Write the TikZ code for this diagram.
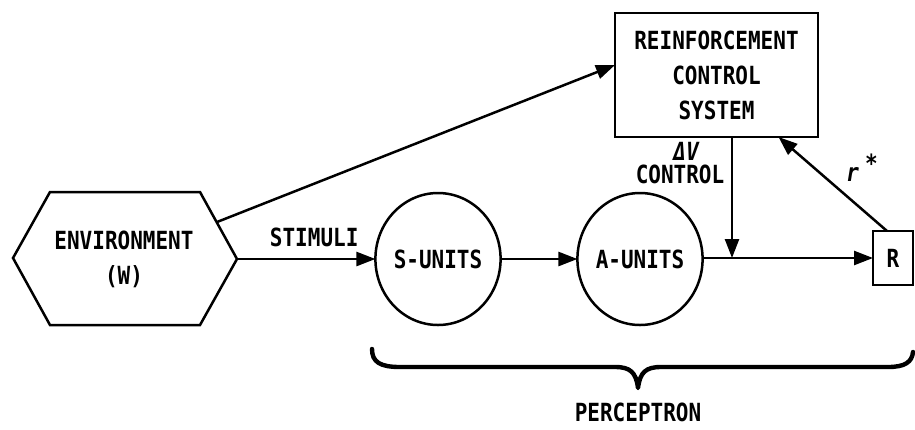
\documentclass[tikz,border=0pt]{standalone}
\usepackage{fontspec}
\usetikzlibrary{arrows.meta,shapes.geometric,calc}
\newfontfamily\lett[FakeStretch=0.84]{DejaVu Sans Mono}
\begin{document}
\begin{tikzpicture}[x=1pt,y=-1pt,
  every node/.style={font=\lett\bfseries\fontsize{25}{35}\selectfont, inner sep=0pt, outer sep=0pt},
  ln/.style={line width=2.5pt},
  arr/.style={ln, -{Triangle[length=19pt,width=14pt]}},
  unit/.style={ln, draw, ellipse, minimum width=124pt, minimum height=132pt},
  boxed/.style={ln, draw, rectangle, align=center},
  brace/.style={line width=4.4pt, line cap=round, line join=round}]
\useasboundingbox (0,0) rectangle (915,429);
% environment hexagon
\coordinate (hL) at (13,258);
\coordinate (hTL) at (50,192);
\coordinate (hTR) at (200,192);
\coordinate (hR) at (237,259);
\coordinate (hBR) at (200,325);
\coordinate (hBL) at (50,325);
\draw[ln, line join=miter] (hL) -- (hTL) -- (hTR) -- (hR) -- (hBR) -- (hBL) -- cycle;
\node[align=center] (env) at (124,259) {ENVIRONMENT\\(W)};
\coordinate (envUR) at ($(hTR)!0.45!(hR)$);
% units
\node[unit] (S) at (438,259) {S-UNITS};
\node[unit] (A) at (640,259) {A-UNITS};
\node[boxed, minimum width=40pt, minimum height=54pt] (R) at (893,258) {R};
\node[boxed, minimum width=203pt, minimum height=124pt] (rcs) at (716.5,75) {REINFORCEMENT\\CONTROL\\SYSTEM};
\coordinate (j) at (732,258);
% connectors
\draw[arr] (hR) -- node[above=12pt, xshift=8pt] (stim) {STIMULI} (S);
\draw[arr] (S) -- (A);
\draw[arr] (A.east |- R) -- (R);
\draw[arr] ([xshift=15.5pt]rcs.south) -- (j);
\draw[arr] (envUR) -- ([yshift=10pt]rcs.west);
\draw[arr] ([xshift=-6pt]R.north) -- ([xshift=62pt]rcs.south);
% labels
\node (dv) at (686,151) {\itshape \char"0394 V};
\node (ctl) at (680,174) {CONTROL};
\node (rstar) at (862,168) {\itshape r\hspace{6pt}\raisebox{9pt}{*}};
% brace
\draw[brace] (372,349) .. controls (372,362) and (380,367) .. (400,367) -- (615,367)
  .. controls (630,367) and (636,372) .. (638,388)
  .. controls (640,372) and (646,367) .. (661,367) -- (888,367)
  .. controls (905,367) and (912,362) .. (913,352);
\node (perc) at (638,412) {PERCEPTRON};
\end{tikzpicture}
\end{document}
